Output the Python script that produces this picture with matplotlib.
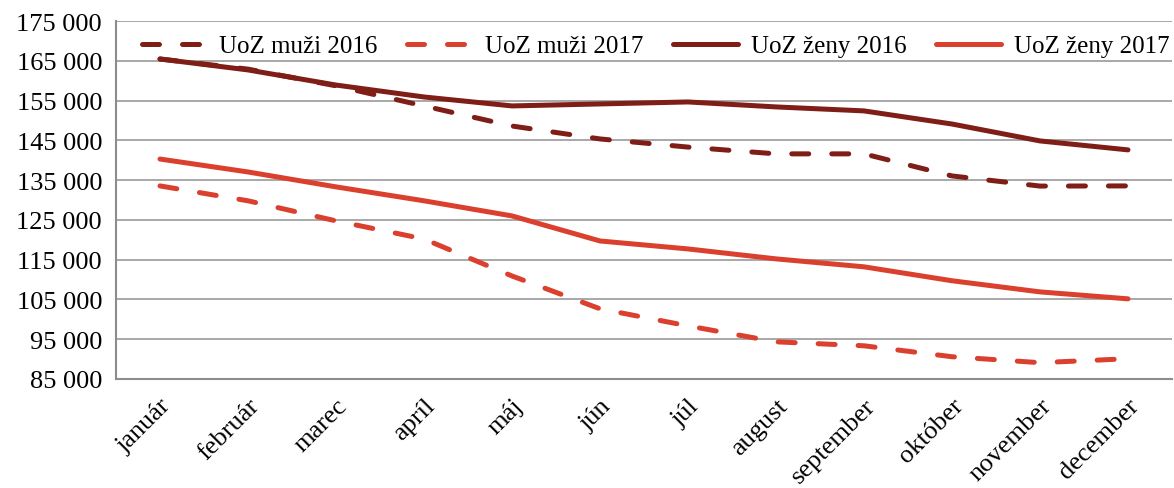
import matplotlib
matplotlib.use("Agg")
import matplotlib.pyplot as plt
from matplotlib.ticker import FuncFormatter, FixedLocator

months = ["január", "február", "marec", "apríl", "máj", "jún", "júl",
          "august", "september", "október", "november", "december"]
muzi_2016 = [165450, 162900, 158700, 153650, 148600, 145350, 143300,
             141600, 141600, 136050, 133500, 133540]
muzi_2017 = [133540, 129800, 124750, 120200, 110900, 102650, 98350,
             94350, 93350, 90600, 89100, 90100]
zeny_2016 = [165450, 162700, 158900, 155900, 153650, 154150, 154650,
             153400, 152400, 149100, 144850, 142600]
zeny_2017 = [140300, 137050, 133300, 129800, 126000, 119700, 117700,
             115200, 113200, 109700, 106900, 105150]
y_ticks = [85000, 95000, 105000, 115000, 125000, 135000, 145000,
           155000, 165000, 175000]

dark = "#7E1E16"
red = "#DB3F2E"

plt.rcParams['font.family'] = ['Liberation Serif', 'DejaVu Serif']

fig = plt.figure(figsize=(11.74, 4.89), dpi=100)
ax = fig.add_axes([116/1174, 1-380/489, (1172-116)/1174, (380-22)/489])

x = list(range(len(months)))
lw = 3.6
dash = (3.4, 4.6)
ax.plot(x, muzi_2016, color=dark, lw=lw, linestyle=(0, dash), dash_capstyle='round',
        solid_capstyle='round', label="UoZ muži 2016", zorder=3)
ax.plot(x, muzi_2017, color=red, lw=lw, linestyle=(0, dash), dash_capstyle='round',
        solid_capstyle='round', label="UoZ muži 2017", zorder=3)
ax.plot(x, zeny_2016, color=dark, lw=lw, solid_capstyle='round', label="UoZ ženy 2016", zorder=3)
ax.plot(x, zeny_2017, color=red, lw=lw, solid_capstyle='round', label="UoZ ženy 2017", zorder=3)

ax.set_xlim(-0.5, 11.5)
ax.set_ylim(85000, 175000)
ax.yaxis.set_major_locator(FixedLocator(y_ticks))
ax.yaxis.set_major_formatter(FuncFormatter(lambda v, p: f"{int(v):,}".replace(",", " ")))
ax.grid(axis='y', color='#999999', lw=1.2, zorder=0)
ax.set_xticks(x)
ax.set_xticklabels(months, rotation=45, ha='right', rotation_mode='anchor')
ax.tick_params(axis='both', length=0, labelsize=19)
ax.tick_params(axis='y', pad=10)
ax.tick_params(axis='x', pad=11)
for s in ['top', 'right']:
    ax.spines[s].set_visible(False)
for s in ['left', 'bottom']:
    ax.spines[s].set_color('#8c8c8c')
    ax.spines[s].set_linewidth(1.5)

leg = ax.legend(loc='center', bbox_to_anchor=(0.511, 0.93), ncol=4, frameon=False,
                fontsize=18, handlelength=2.6, handletextpad=0.5, columnspacing=1.2,
                borderaxespad=0)

fig.savefig("out.png", dpi=100)
